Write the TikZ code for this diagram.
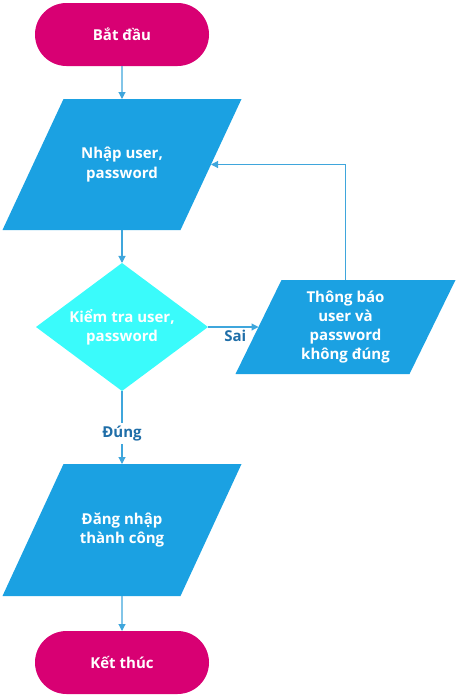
\documentclass[tikz,border=0pt]{standalone}
\usepackage{fontspec}
\setmainfont{Open Sans}
\usetikzlibrary{shapes.geometric,shapes.misc,arrows.meta,backgrounds}
\definecolor{hong}{HTML}{D80073}
\definecolor{xanh}{HTML}{1BA1E2}
\definecolor{lam}{HTML}{3AFBFB}
\definecolor{duong}{HTML}{3FA6DC}
\definecolor{chu}{HTML}{1F6EA8}
% hinh binh hanh sau node #1, lech #2
\newcommand\hbh[2]{\fill[xanh] ([xshift=-#2]#1.south west) -- ([xshift=-#2]#1.south east) -- ([xshift=#2]#1.north east) -- ([xshift=#2]#1.north west) -- cycle;}

\begin{document}
\begin{tikzpicture}[x=1pt,y=-1pt,
  txt/.style={text=white,font=\bfseries\fontsize{15}{19.3}\selectfont,align=center,inner sep=0pt,outer sep=0pt},
  batdau/.style={txt,rounded rectangle,fill=hong,minimum width=174pt,minimum height=63pt},
  io/.style={txt,rectangle},
  kt/.style={txt,diamond,shape aspect=1.34,fill=lam,minimum width=172pt,minimum height=128pt},
  line/.style={draw=duong,line width=1.1pt,-{Triangle[length=7pt,width=7pt]}},
  nhan/.style={text=chu,font=\bfseries\fontsize{15}{17}\selectfont,inner sep=3pt}]
  \useasboundingbox (0,0) rectangle (458,697);
              \node[batdau](start)at(122,34.5){Bắt đầu};
              \node[io,minimum width=178pt,minimum height=131pt](nhap)at(122,164.5){Nhập user,\\password};
              \node[kt](kiem)at(122,327){Kiểm tra user,\\password};
              \node[io,minimum width=174pt,minimum height=94pt](thongbao)at(345.5,327){Thông báo\\user và\\password\\không đúng};
              \node[io,minimum width=178pt,minimum height=132pt](dangnhap)at(122,530){Đăng nhập\\thành công};
              \node[batdau](ket)at(122,662.5){Kết thúc};
              \begin{scope}[on background layer]
                \hbh{nhap}{30.5pt}
                \hbh{thongbao}{23pt}
                \hbh{dangnhap}{30.5pt}
              \end{scope}
              \draw[line] (start)--(nhap);
              \draw[line] (nhap)--(kiem);
              \draw[line] (kiem)--node[nhan,below,pos=0.54]{Sai}(thongbao);
              \draw[line] (thongbao.north)|-(nhap.east);
              \draw[line] (kiem)--node[nhan,fill=white,pos=0.58]{Đúng}(dangnhap);
              \draw[line] (dangnhap)--(ket);
            \end{tikzpicture}
\end{document}
